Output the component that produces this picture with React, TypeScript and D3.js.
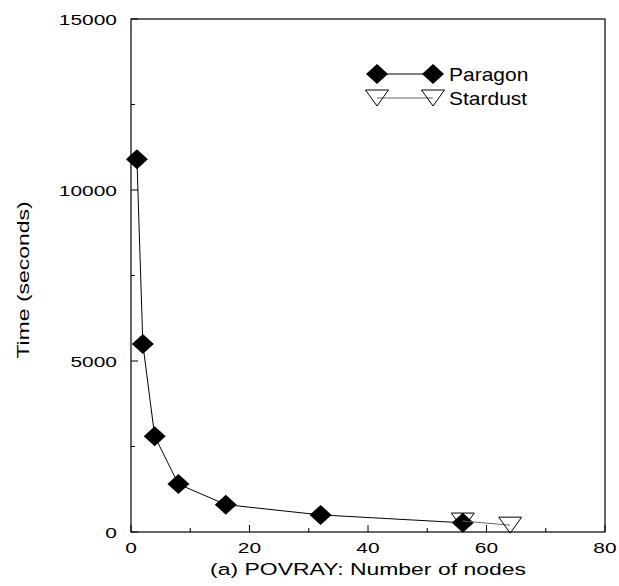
import React from "react";
import * as d3 from "d3";

const nodesParagon = [1, 2, 4, 8, 16, 32, 56];
const timeParagon = [10900, 5500, 2800, 1400, 800, 500, 270];
const nodesStardust = [56, 64];
const timeStardust = [320, 200];
const xTickLabels = [0, 20, 40, 60, 80];
const yTickLabels = [0, 5000, 10000, 15000];
const seriesNames = ["Paragon", "Stardust"];
const xTitle = "(a) POVRAY: Number of nodes";
const yTitle = "Time (seconds)";

const W = 619, H = 586;
const L = 131, R = 605, T = 19, B = 532;
const FONT = "'Liberation Sans', Arial, Helvetica, sans-serif";

const x = d3.scaleLinear().domain([0, 80]).range([L, R]);
const y = d3.scaleLinear().domain([0, 15000]).range([B, T]);

const diamond = (cx: number, cy: number) =>
  `M${cx - 11},${cy} L${cx},${cy - 10} L${cx + 11},${cy} L${cx},${cy + 10} Z`;
const triDown = (cx: number, cy: number) =>
  `M${cx - 11.5},${cy - 8} L${cx + 11.5},${cy - 8} L${cx},${cy + 8} Z`;

function Txt(props: { x: number; y: number; size: number; sx?: number; anchor?: string; rotate?: number; children: any }) {
  const { size, anchor = "start", rotate = 0, sx = 1.35 } = props;
  return (
    <text
      transform={`translate(${props.x},${props.y}) rotate(${rotate}) scale(${sx},1)`}
      fontSize={size}
      fontFamily={FONT}
      textAnchor={anchor}
      fill="#000"
    >
      {props.children}
    </text>
  );
}

export default function App() {
  const pPts = nodesParagon.map((n, i) => [x(n), y(timeParagon[i])] as [number, number]);
  const sPts = nodesStardust.map((n, i) => [x(n), y(timeStardust[i])] as [number, number]);
  const line = d3.line();
  const xTicks = d3.range(0, 81, 10);
  const yTicks = d3.range(0, 15001, 2500);
  return (
    <svg width={W} height={H} style={{ position: "absolute", left: 0, top: 0, background: "#fff" }}>
      <rect x={0} y={0} width={W} height={H} fill="#fff" />
      {xTicks.map((t) => (
        <line key={"xt" + t} x1={x(t)} x2={x(t)} y1={B} y2={B - (t % 20 === 0 ? 7 : 4)} stroke="#000" strokeWidth={1} />
      ))}
      {yTicks.map((t) => (
        <line key={"yt" + t} x1={L} x2={L + (t % 5000 === 0 ? 7 : 4)} y1={y(t)} y2={y(t)} stroke="#000" strokeWidth={1} />
      ))}
      <rect x={L} y={T} width={R - L} height={B - T} fill="none" stroke="#000" strokeWidth={1.2} />
      {xTickLabels.map((t) => (
        <Txt key={"xl" + t} x={x(t)} y={553} size={15.5} anchor="middle">{t}</Txt>
      ))}
      {yTickLabels.map((t) => (
        <Txt key={"yl" + t} x={117} y={y(t) + 5.5} size={15.5} anchor="end">{t}</Txt>
      ))}
      <Txt x={(L + R) / 2} y={575} size={17} anchor="middle">{xTitle}</Txt>
      <Txt x={29} y={280} size={17} anchor="middle" rotate={-90}>{yTitle}</Txt>
      <path d={line(pPts) || ""} fill="none" stroke="#000" strokeWidth={1} />
      {pPts.map((p, i) => (
        <path key={"pp" + i} d={diamond(p[0], p[1])} fill="#000" />
      ))}
      <path d={line(sPts) || ""} fill="none" stroke="#666" strokeWidth={1} />
      {sPts.map((p, i) => (
        <path key={"sp" + i} d={triDown(p[0], p[1])} fill="none" stroke="#000" strokeWidth={1} />
      ))}
      <line x1={377} x2={433} y1={74} y2={74} stroke="#000" strokeWidth={1} />
      <path d={diamond(377, 74)} fill="#000" />
      <path d={diamond(433, 74)} fill="#000" />
      <Txt x={449} y={80.5} size={17.5} sx={1.2}>{seriesNames[0]}</Txt>
      <line x1={377} x2={433} y1={98} y2={98} stroke="#666" strokeWidth={1} />
      <path d={triDown(377, 98)} fill="none" stroke="#000" strokeWidth={1} />
      <path d={triDown(433, 98)} fill="none" stroke="#000" strokeWidth={1} />
      <Txt x={449} y={104.5} size={17.5} sx={1.2}>{seriesNames[1]}</Txt>
    </svg>
  );
}
